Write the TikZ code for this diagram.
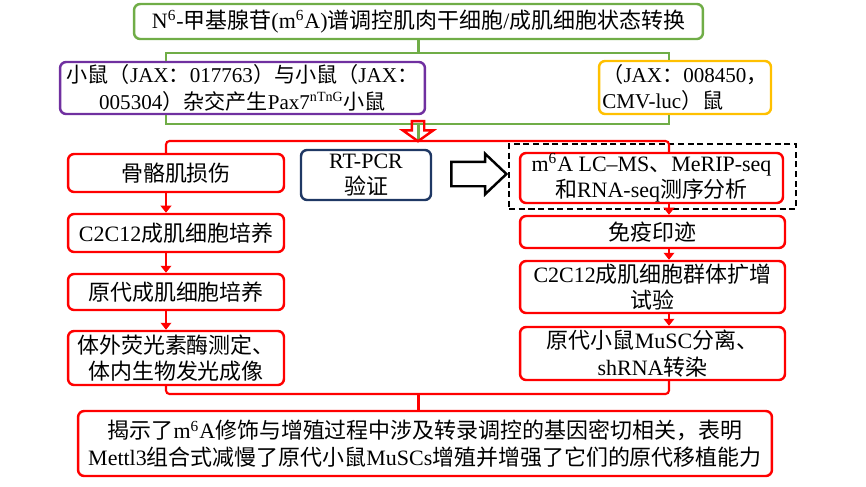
\documentclass[tikz,border=0pt]{standalone}
\usepackage{fontspec}
\setmainfont{Liberation Serif}
\newfontfamily\cjk{Noto Sans CJK SC}
\newcommand{\zh}[1]{{\cjk #1}}
\usetikzlibrary{arrows.meta,shapes.arrows}
\definecolor{boxgreen}{HTML}{70AD47}
\definecolor{boxpurple}{HTML}{7030A0}
\definecolor{boxorange}{HTML}{FFC000}
\definecolor{boxnavy}{HTML}{1F3864}
\tikzset{every node/.style={inner sep=0pt,align=center,font=\fontsize{12.5}{15}\selectfont},
  box/.style={draw,line width=1.4pt,rounded corners=3.5pt},
  gbox/.style={box,draw=boxgreen},
  rbox/.style={box,draw=red},
  gline/.style={draw=boxgreen,line width=1.2pt},
  rline/.style={draw=red,line width=1.2pt,rounded corners=2pt},
  rarrow/.style={draw=red,line width=1.2pt,-{Triangle[length=4pt,width=6pt]}},
  hollow/.style={single arrow,inner xsep=0pt,line width=1.4pt}}

\begin{document}
\begin{tikzpicture}[x=0.02cm,y=-0.02cm]
  \useasboundingbox (0,0) rectangle (866,487);
  \node[gbox,minimum width=11.38cm,minimum height=0.70cm] (title) at (418.5,21.5)
    {N\textsuperscript{6}-\zh{甲基腺苷}(m\textsuperscript{6}A)\zh{谱调控肌肉干细胞}/\zh{成肌细胞状态转换}};
  \node[box,draw=boxpurple,minimum width=7.30cm,minimum height=1.04cm,font=\fontsize{12}{15}\selectfont] (mice) at (242.5,88)
    {\zh{小鼠（}JAX\zh{：}017763\zh{）与小鼠（}JAX\zh{：}\\005304\zh{）杂交产生}Pax7\textsuperscript{nTnG}\zh{小鼠}};
  \node[box,draw=boxorange,minimum width=3.44cm,minimum height=1.06cm,align=left,font=\fontsize{12}{15}\selectfont] (luc) at (685,87.5)
    {\zh{（}JAX\zh{：}008450\zh{，}\\CMV-luc\zh{）鼠}};

  % left column
  \node[rbox,minimum width=4.32cm,minimum height=0.76cm] (inj) at (176,173) {\zh{骨骼肌损伤}};
  \node[rbox,minimum width=4.32cm,minimum height=0.76cm] (c2c) at (176,233) {C2C12\zh{成肌细胞培养}};
  \node[rbox,minimum width=4.32cm,minimum height=0.72cm] (prim) at (176,292) {\zh{原代成肌细胞培养}};
  \node[rbox,minimum width=4.32cm,minimum height=1.08cm] (luci) at (176,358)
    {\zh{体外荧光素酶测定、}\\\zh{体内生物发光成像}};

  % middle and right column
  \node[box,draw=boxnavy,minimum width=2.6cm,minimum height=1.0cm] (pcr) at (366,175) {RT-PCR\\\zh{验证}};
  \node[hollow,draw=black,minimum height=1.1cm,inner ysep=0.22cm,single arrow head extend=0.16cm,single arrow tip angle=87] (big) at (472.5,174) {};
  \node[rbox,minimum width=5.26cm,minimum height=1.0cm] (seq) at (651.5,178)
    {m\textsuperscript{6}A LC--MS\zh{、}MeRIP-seq\\\zh{和}RNA-seq\zh{测序分析}};
  \node[draw,line width=1.3pt,dash pattern=on 3.5pt off 2pt,minimum width=5.74cm,minimum height=1.30cm] (frame) at (652.5,176.5) {};
  \node[rbox,minimum width=5.30cm,minimum height=0.64cm] (wb) at (652.5,232) {\zh{免疫印迹}};
  \node[rbox,minimum width=5.30cm,minimum height=1.04cm] (prol) at (652.5,287)
    {C2C12\zh{成肌细胞群体扩增}\\\zh{试验}};
  \node[rbox,minimum width=5.30cm,minimum height=1.06cm] (musc) at (652.5,353.5)
    {\zh{原代小鼠}MuSC\zh{分离、}\\shRNA\zh{转染}};

  \node[rbox,minimum width=13.88cm,minimum height=1.30cm] (res) at (425,443.5)
    {\zh{揭示了}m\textsuperscript{6}A\zh{修饰与增殖过程中涉及转录调控的基因密切相关，表明}\\Mettl3\zh{组合式减慢了原代小鼠}MuSCs\zh{增殖并增强了它们的原代移植能力}};

  \coordinate (gl) at (166,53);   \coordinate (gr) at (669,53);
  \coordinate (hl) at (166,124);  \coordinate (hr) at (669,124);
  \coordinate (rl) at (166,141);  \coordinate (rr) at (669,141);
  \coordinate (bl) at (166,394);  \coordinate (br) at (669,394);

  \draw[gline] (title.south) -- (title.south |- gl);
  \draw[gline] (mice.north -| gl) -- (gl) -- (gr) -- (luc.north -| gr);
  \draw[gline] (mice.south -| hl) -- (hl) -- (hr) -- (luc.south -| hr);
  \draw[gline] (title.south |- hl) -- (title.south |- rl);
  \node[hollow,draw=red,rotate=-90,minimum height=0.4cm,inner ysep=0.1cm,single arrow head extend=0.18cm,single arrow tip angle=109] (down) at (418,129) {};
  \draw[rline] (inj.north -| rl) -- (rl) -- (rr) -- (seq.north -| rr);

\foreach \a/\b in {inj/c2c,c2c/prim,prim/luci}
  \draw[rarrow] (\a.south -| rl) -- (\b.north -| rl);
\foreach \a/\b in {seq/wb,wb/prol,prol/musc}
  \draw[rarrow] (\a.south -| rr) -- (\b.north -| rr);

  \draw[rline] (luci.south -| bl) -- (bl) -- (br) -- (musc.south -| br);
  \draw[rline] (title.south |- bl) -- (res.north -| title.south);
\end{tikzpicture}
\end{document}
